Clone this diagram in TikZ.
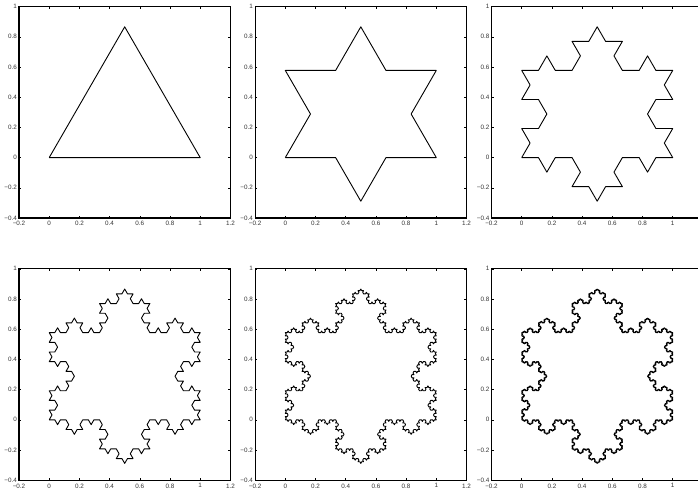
\documentclass[tikz,border=0pt]{standalone}
\usepackage{fontspec}
\setmainfont{Liberation Sans}
\usetikzlibrary{lindenmayersystems}
\pgfdeclarelindenmayersystem{Koch}{\rule{F -> F-F++F-F}}
\tikzset{
  axbox/.style={line width=1.1pt},
  axtick/.style={line width=0.5pt},
  curve/.style={line width=0.9pt, line join=round},
  ticklbl/.style={font=\fontsize{6.3}{7}\selectfont, inner sep=0pt, text=black!80}
}
\newcommand\kochpanel[4]{% #1,#2 data origin (pt), #3 order, #4 step
\begin{scope}[shift={(#1,#2)}, x=151pt, y=151pt]
  \draw[axbox] (-0.2,-0.4) rectangle (1.2,1);
  \foreach \t/\l [count=\k] in {-0.2/−0.2,0/0,0.2/0.2,0.4/0.4,0.6/0.6,0.8/0.8,1/1,1.2/1.2}{
    \draw[axtick] (\t,-0.4) -- ++(0,2.2pt);
    \draw[axtick] (\t,1) -- ++(0,-2.2pt);
    \path (\t,-0.4) ++(0,-3.2pt) node[ticklbl, anchor=north] (xl#3-\k) {\l};
  }
  \foreach \t/\l [count=\k] in {-0.4/−0.4,-0.2/−0.2,0/0,0.2/0.2,0.4/0.4,0.6/0.6,0.8/0.8,1/1}{
    \draw[axtick] (-0.2,\t) -- ++(2.2pt,0);
    \draw[axtick] (1.2,\t) -- ++(-2.2pt,0);
    \path (-0.2,\t) ++(-2pt,0) node[ticklbl, anchor=east] (yl#3-\k) {\l};
  }
  \draw[curve, lindenmayer system={Koch, axiom=F++F++F, order=#3, step=#4, angle=60}] (0,0) lindenmayer system;
\end{scope}}
\begin{document}
\begin{tikzpicture}
  \useasboundingbox (0pt,0pt) rectangle (698pt,491pt);
  \clip (0pt,0pt) rectangle (698pt,491pt);
  \kochpanel{49.2pt}{333.4pt}{0}{151pt}
  \kochpanel{285.3pt}{333.4pt}{1}{50.3333pt}
  \kochpanel{521.7pt}{333.4pt}{2}{16.7778pt}
  \kochpanel{49.2pt}{71.2pt}{3}{5.59259pt}
  \kochpanel{285.3pt}{71.2pt}{4}{1.86420pt}
  \kochpanel{521.7pt}{71.2pt}{5}{0.62140pt}
\end{tikzpicture}
\end{document}
